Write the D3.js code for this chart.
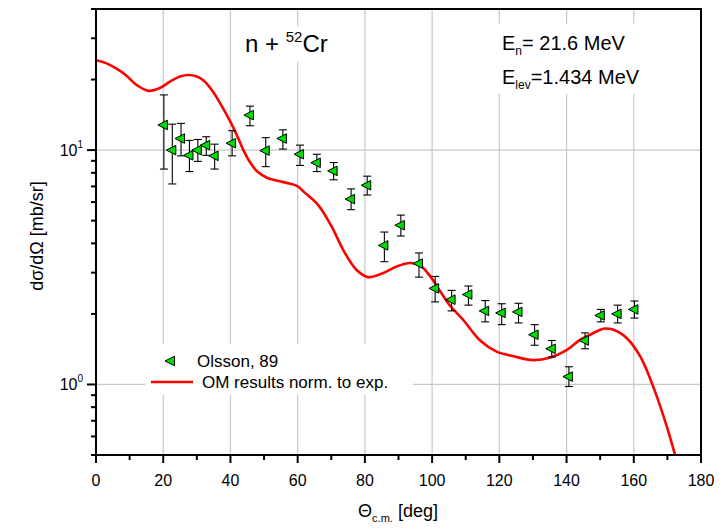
<!DOCTYPE html>
<html><head><meta charset="utf-8">
<script src="https://cdn.jsdelivr.net/npm/d3@7"></script>
<style>
body{margin:0;background:#fff;}
text{font-family:"Liberation Sans",Arial,sans-serif;fill:#000;}
</style></head>
<body><svg id="c" width="725" height="529"></svg>
<script>
// ---- data ----
const expAngles = [20.2,22.7,25.3,27.8,30.3,32.8,35.3,40.5,45.8,50.5,55.6,60.7,65.7,70.7,75.9,80.7,85.8,90.7,96.1,100.9,105.8,110.8,115.8,120.7,125.7,130.5,135.6,140.7,145.5,150.2,155.2,160.2];
const expValues = [12.8,10.0,11.2,9.5,10.0,10.5,9.45,10.7,14.1,9.95,11.2,9.6,8.83,8.15,6.18,7.08,3.92,4.78,3.28,2.57,2.30,2.42,2.06,2.02,2.04,1.63,1.42,1.08,1.54,1.97,2.00,2.09];
const expUpper  = [17.2,12.9,13.0,11.0,11.1,11.4,10.6,12.1,15.4,11.3,12.2,10.5,9.6,8.85,6.83,7.74,4.47,5.28,3.64,2.89,2.52,2.63,2.28,2.21,2.22,1.80,1.54,1.19,1.66,2.09,2.18,2.27];
const expLower  = [8.3,7.17,9.45,8.1,8.95,9.5,8.3,9.45,12.7,8.5,10.1,8.6,8.1,7.47,5.57,6.43,3.34,4.3,2.87,2.25,2.06,2.18,1.85,1.80,1.83,1.47,1.31,0.98,1.42,1.85,1.83,1.92];

const omAngles = [0,3,6,9,12,15.6,19,22,25,27.5,30,32,34.5,37,40,42,44,46,48,51,54,57.5,60,62,66,70,74,77.6,81,85.5,89.5,93.4,96.4,99.4,102.4,105,109.3,114.3,119.2,124.2,130,135,140,144,147,151,154,158,162,166,170,172.3,174];
const omValues = [24.2,23.5,22.3,20.8,19.0,17.9,18.4,19.6,20.6,20.9,20.6,19.8,18.0,15.8,13.2,11.5,9.9,8.8,8.1,7.6,7.4,7.2,7.0,6.6,5.85,4.75,3.65,3.07,2.87,2.99,3.19,3.30,3.22,2.9,2.5,2.2,1.88,1.54,1.38,1.32,1.27,1.30,1.40,1.55,1.63,1.73,1.71,1.57,1.31,0.96,0.65,0.50,0.42];

const xTicks = [0,20,40,60,80,100,120,140,160,180];
const xMinor = [10,30,50,70,90,110,130,150,170];
const yMajor = [1,10];
const yMinor = [0.5,0.6,0.7,0.8,0.9,2,3,4,5,6,7,8,9,20,30,40];
const legendLabels = ["Olsson, 89","OM results norm. to exp."];

// ---- layout ----
const L=96, R=701, T=9, B=455;
const svg = d3.select("#c");
const x = d3.scaleLinear().domain([0,180]).range([L,R]);
const y = d3.scaleLog().domain([0.5,40]).range([B,T]);

// grid
const g = svg.append("g");
g.selectAll(".vg").data(xTicks.slice(1,-1)).join("line")
  .attr("x1",d=>x(d)).attr("x2",d=>x(d)).attr("y1",T).attr("y2",B)
  .attr("stroke","#c8c8c8").attr("stroke-width",1.2);
g.selectAll(".hg").data(yMajor).join("line")
  .attr("x1",L).attr("x2",R).attr("y1",d=>y(d)).attr("y2",d=>y(d))
  .attr("stroke","#c8c8c8").attr("stroke-width",1.2);

// white boxes behind annotations
svg.append("rect").attr("x",238).attr("y",26).attr("width",102).attr("height",36).attr("fill","#fff");
svg.append("rect").attr("x",498).attr("y",24).attr("width",146).attr("height",70).attr("fill","#fff");
svg.append("rect").attr("x",145).attr("y",344).attr("width",268).attr("height",51).attr("fill","#fff");

// clip
svg.append("clipPath").attr("id","clip").append("rect").attr("x",L).attr("y",T).attr("width",R-L).attr("height",B-T);

// OM curve
const line = d3.line().x(d=>x(d[0])).y(d=>y(d[1])).curve(d3.curveCatmullRom.alpha(0.5));
svg.append("path").datum(omAngles.map((a,i)=>[a,omValues[i]]))
  .attr("d",line).attr("fill","none").attr("stroke","#ff0000").attr("stroke-width",2.6)
  .attr("clip-path","url(#clip)");

// error bars
const eb = svg.append("g").attr("stroke","#000").attr("stroke-width",1.1);
expAngles.forEach((a,i)=>{
  const cx=x(a);
  eb.append("line").attr("x1",cx).attr("x2",cx).attr("y1",y(expUpper[i])).attr("y2",y(expLower[i]));
  eb.append("line").attr("x1",cx-4).attr("x2",cx+4).attr("y1",y(expUpper[i])).attr("y2",y(expUpper[i]));
  eb.append("line").attr("x1",cx-4).attr("x2",cx+4).attr("y1",y(expLower[i])).attr("y2",y(expLower[i]));
});
// markers
const tri = "M-6,0L3.5,-4.8L3.5,4.8Z";
svg.append("g").selectAll("path").data(expAngles.map((a,i)=>[a,expValues[i]])).join("path")
  .attr("d",tri).attr("transform",d=>`translate(${x(d[0])},${y(d[1])})`)
  .attr("fill","#00dd00").attr("stroke","#000").attr("stroke-width",1);

// axes frame
const ax = svg.append("g").attr("stroke","#000");
ax.append("rect").attr("x",L).attr("y",T).attr("width",R-L).attr("height",B-T).attr("fill","none").attr("stroke-width",2);
ax.selectAll(".xt").data(xTicks).join("line").attr("x1",d=>x(d)).attr("x2",d=>x(d)).attr("y1",B).attr("y2",B+8).attr("stroke-width",2);
ax.selectAll(".xm").data(xMinor).join("line").attr("x1",d=>x(d)).attr("x2",d=>x(d)).attr("y1",B).attr("y2",B+5).attr("stroke-width",2);
ax.selectAll(".yt").data(yMajor).join("line").attr("x1",L-9).attr("x2",L).attr("y1",d=>y(d)).attr("y2",d=>y(d)).attr("stroke-width",2);
ax.selectAll(".ym").data(yMinor).join("line").attr("x1",L-5).attr("x2",L).attr("y1",d=>y(d)).attr("y2",d=>y(d)).attr("stroke-width",2);

// tick labels
svg.selectAll(".xl").data(xTicks).join("text").attr("x",d=>x(d)).attr("y",486)
  .attr("text-anchor","middle").attr("font-size",16).text(d=>d);
yMajor.forEach(v=>{
  const t=svg.append("text").attr("x",83).attr("y",y(v)+6).attr("text-anchor","end").attr("font-size",16);
  t.append("tspan").text("10");
  t.append("tspan").attr("font-size",10).attr("dy",-8).text(Math.round(Math.log10(v)));
});

// axis titles
const xt = svg.append("text").attr("x",398).attr("y",517).attr("text-anchor","middle").attr("font-size",18);
xt.append("tspan").text("Θ");
xt.append("tspan").attr("font-size",11).attr("dy",5).text("c.m.");
xt.append("tspan").attr("dy",-5).text(" [deg]");
svg.append("text").attr("transform","translate(43,236) rotate(-90)").attr("text-anchor","middle")
  .attr("font-size",18).text("dσ/dΩ [mb/sr]");

// title
const tt = svg.append("text").attr("x",245).attr("y",52).attr("font-size",24);
tt.append("tspan").text("n + ");
tt.append("tspan").attr("font-size",15).attr("dy",-10).text("52");
tt.append("tspan").attr("dy",10).text("Cr");

const e1 = svg.append("text").attr("x",502).attr("y",50).attr("font-size",20);
e1.append("tspan").text("E");
e1.append("tspan").attr("font-size",12).attr("dy",5).text("n");
e1.append("tspan").attr("dy",-5).text("= 21.6 MeV");
const e2 = svg.append("text").attr("x",502).attr("y",84).attr("font-size",20);
e2.append("tspan").text("E");
e2.append("tspan").attr("font-size",12).attr("dy",5).text("lev");
e2.append("tspan").attr("dy",-5).text("=1.434 MeV");

// legend
svg.append("path").attr("d",tri).attr("transform","translate(171,361)")
  .attr("fill","#00dd00").attr("stroke","#000").attr("stroke-width",1);
svg.append("text").attr("x",197).attr("y",367).attr("font-size",17).text(legendLabels[0]);
svg.append("line").attr("x1",151).attr("x2",193).attr("y1",382).attr("y2",382).attr("stroke","#ff0000").attr("stroke-width",2.6);
svg.append("text").attr("x",202).attr("y",388).attr("font-size",17).text(legendLabels[1]);
</script></body></html>
